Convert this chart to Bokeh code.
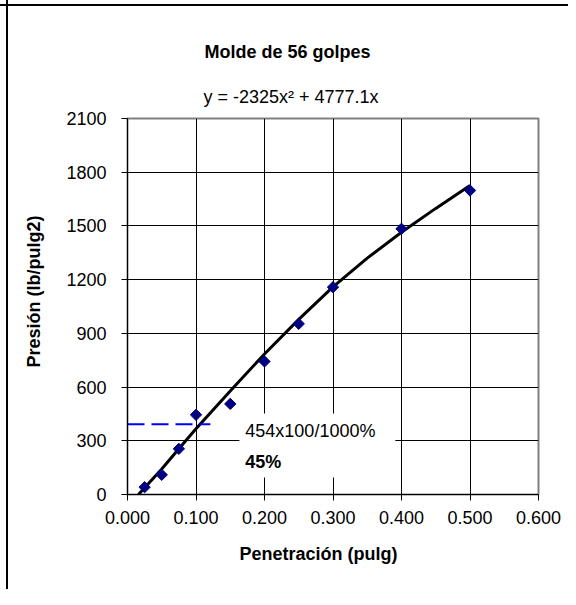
from bokeh.plotting import figure
from bokeh.models import (Label, BoxAnnotation, FixedTicker, NumeralTickFormatter, Range1d,
                          Title, InlineStyleSheet)
from bokeh.embed import file_html
from bokeh.resources import INLINE
import math

# ---- data ----
penetracion = [0.025, 0.05, 0.075, 0.1, 0.15, 0.2, 0.25, 0.3, 0.4, 0.5]
presion = [41, 110, 255, 445, 506, 743, 953, 1158, 1484, 1698]

# hand-drawn curve through the points
curve_x = [0.016, 0.05, 0.075, 0.1, 0.15, 0.2, 0.25, 0.3, 0.35, 0.4, 0.45, 0.5]
curve_y = [0, 142, 256, 367, 578, 785, 978, 1160, 1320, 1465, 1598, 1726]

# dashed reference line
ref_x = [0.0, 0.121]
ref_y = [392, 392]

x_ticks = [0.0, 0.1, 0.2, 0.3, 0.4, 0.5, 0.6]
y_ticks = [0, 300, 600, 900, 1200, 1500, 1800, 2100]

title_text = "Molde de 56 golpes"
equation_text = "y = -2325x\u00b2 + 4777.1x"
x_label = "Penetración (pulg)"
y_label = "Presión (lb/pulg2)"
note_line1 = "454x100/1000%"
note_line2 = "45%"

FONT = "Liberation Sans"

p = figure(width=568, height=589, output_backend="svg", toolbar_location=None, title=None,
           x_range=Range1d(0, 0.6), y_range=Range1d(0, 2100),
           min_border_left=127, min_border_right=30, min_border_top=118, min_border_bottom=95)

# outer chart-area border (left and top edges) drawn behind a transparent canvas border
p.stylesheets = [InlineStyleSheet(css=(
    ":host { background: linear-gradient(#000, #000) 6px 0px / 2px 100% no-repeat, "
    "linear-gradient(#000, #000) 0px 4px / 100% 2px no-repeat, #fff; }"
))]
p.background_fill_color = "white"
p.border_fill_color = "white"
p.border_fill_alpha = 0.0
p.outline_line_color = "#808080"
p.outline_line_width = 2

for ax in (p.xaxis[0], p.yaxis[0]):
    ax.major_label_text_font = FONT
    ax.major_label_text_font_size = "18px"
    ax.major_label_text_color = "black"
    ax.axis_line_color = "black"
    ax.major_tick_line_color = "black"
    ax.major_tick_in = 0
    ax.major_tick_out = 6
    ax.minor_tick_line_color = None

p.xaxis.ticker = FixedTicker(ticks=x_ticks)
p.yaxis.ticker = FixedTicker(ticks=y_ticks)
p.xaxis.formatter = NumeralTickFormatter(format="0.000")
p.xaxis.major_label_standoff = 10
p.yaxis.major_label_standoff = 15

p.xgrid.ticker = FixedTicker(ticks=x_ticks)
p.ygrid.ticker = FixedTicker(ticks=y_ticks)
p.grid.grid_line_color = "black"
p.grid.grid_line_width = 1

# curve and points
p.line(curve_x, curve_y, line_color="black", line_width=3)
p.scatter(penetracion, presion, marker="square", size=8, angle=math.pi / 4,
          fill_color="#000080", line_color="#000080")

# dashed blue reference line
p.line(ref_x, ref_y, line_color="#0000FF", line_width=2, line_dash="17 7")

# white note box
p.add_layout(BoxAnnotation(left=0.1634, right=0.391, bottom=95, top=452,
                           fill_color="white", fill_alpha=1.0, line_color=None))
p.add_layout(Label(x=0.172, y=357, text=note_line1, text_font=FONT, text_font_size="18px",
                   text_baseline="middle", text_align="left", text_color="black"))
p.add_layout(Label(x=0.172, y=184, text=note_line2, text_font=FONT, text_font_size="18px",
                   text_font_style="bold", text_baseline="middle", text_align="left",
                   text_color="black"))

# titles (above the frame): equation nearest, then main title
p.add_layout(Title(text=equation_text, text_font=FONT, text_font_size="18px",
                   text_font_style="normal", align="left", offset=76, text_color="black",
                   vertical_align="middle", standoff=21), "above")
p.add_layout(Title(text=title_text, text_font=FONT, text_font_size="18px",
                   text_font_style="bold", align="left", offset=77, text_color="black",
                   vertical_align="middle", standoff=25), "above")
# axis titles
p.add_layout(Title(text=x_label, text_font=FONT, text_font_size="18px",
                   text_font_style="bold", align="left", offset=112, text_color="black",
                   vertical_align="middle", standoff=33), "below")
p.add_layout(Title(text=y_label, text_font=FONT, text_font_size="18px",
                   text_font_style="bold", align="left", offset=127, text_color="black",
                   vertical_align="middle", standoff=37), "left")

open("out.html", "w").write(file_html(p, INLINE))
